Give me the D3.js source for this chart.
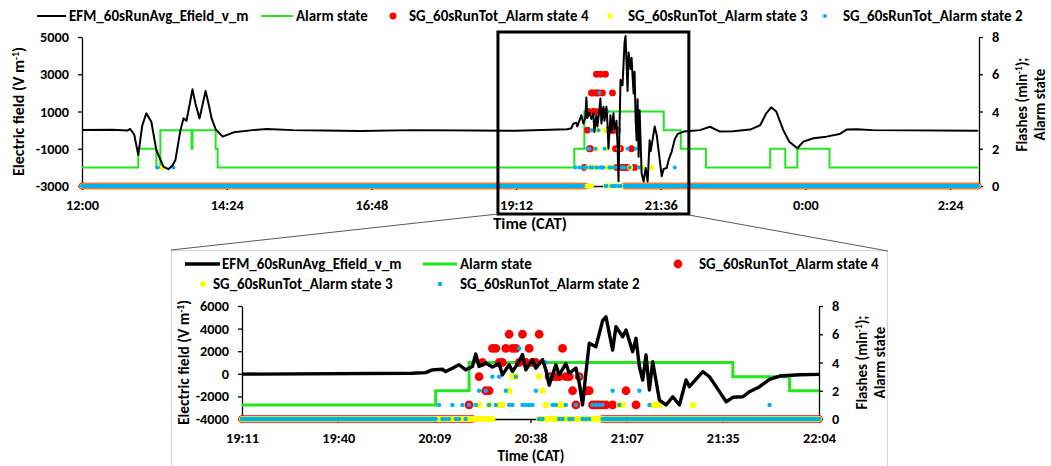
<!DOCTYPE html>
<html>
<head>
<meta charset="utf-8">
<script src="https://cdn.jsdelivr.net/npm/d3@7"></script>
<style>
  body { margin: 0; background: #fff; }
  svg { display: block; font-family: Carlito, Lato, sans-serif; font-weight: bold; }
</style>
</head>
<body>
<svg id="chart" width="1051" height="466"></svg>
<script>
// ------------------
// Data (times are local CAT)
// ------------------
const fieldSeries = [
  ['12:00', 0], ['12:30', 20], ['12:45', -20], ['12:48', 60], ['12:52', -250], ['12:56', -1330],
  ['13:00', 250], ['13:04', 900], ['13:09', 450], ['13:14', -1070], ['13:21', -1960], ['13:26', -2100],
  ['13:30', -1900], ['13:33', -1600], ['13:38', 0], ['13:41', 630], ['13:44', 500], ['13:50', 2190],
  ['13:53', 1400], ['13:57', 630], ['14:03', 2100], ['14:06', 1400], ['14:09', 630], ['14:13', 50],
  ['14:20', -350], ['14:31', -120], ['14:50', 0], ['15:04', 60], ['15:30', 0], ['16:00', -20],
  ['16:37', -50], ['17:30', 0], ['18:30', -20], ['19:12', -30], ['20:03', 50], ['20:07', 100],
  ['20:09', 350], ['20:12', 400], ['20:13', 200], ['20:15', 500], ['20:17', 800], ['20:19', 350],
  ['20:21', 650], ['20:22', 1750], ['20:23', 650], ['20:25', 950], ['20:27', 600], ['20:29', 900],
  ['20:30', -100], ['20:32', 800], ['20:33', 200], ['20:35', 1100], ['20:36', 1700], ['20:37', 350],
  ['20:39', 1250], ['20:40', 500], ['20:42', 1250], ['20:43', 350], ['20:44', -1000], ['20:46', 800],
  ['20:47', -100], ['20:49', 900], ['20:50', 50], ['20:52', 500], ['20:53', -800], ['20:54', -2750],
  ['20:55', 100], ['20:56', 2700], ['20:58', 2400], ['21:00', 4700], ['21:01', 5050], ['21:03', 2100],
  ['21:04', 4170], ['21:06', 3280], ['21:07', 3880], ['21:09', 1960], ['21:10', 3140], ['21:11', 630],
  ['21:12', -550], ['21:13', 1660], ['21:14', -1430], ['21:15', 1070], ['21:17', -2320], ['21:19', -2760],
  ['21:21', -2030], ['21:23', -2760], ['21:25', -550], ['21:26', -1140], ['21:30', 190], ['21:32', -260],
  ['21:35', -1580], ['21:37', -2470], ['21:39', -2080], ['21:42', -2030], ['21:44', -1580], ['21:47', -1140],
  ['21:50', -490], ['21:53', -200], ['21:59', -80], ['22:05', -50], ['22:15', 0], ['22:25', 180],
  ['22:35', -80], ['22:48', -60], ['23:05', 30], ['23:15', 260], ['23:21', 900], ['23:26', 1225],
  ['23:31', 1000], ['23:38', 0], ['23:44', -620], ['23:52', -975], ['23:58', -620], ['0:08', -440],
  ['0:21', -350], ['0:34', -210], ['0:41', 30], ['0:51', 50], ['1:07', 0], ['2:52', -30]
]

// alarm state, value holds from each time until the next one
const alarmState = [
  ['12:00', 1], ['12:56', 2], ['13:14', 1], ['13:18', 3], ['13:49', 2], ['13:50', 3], ['14:13', 2],
  ['14:15', 1], ['20:10', 2], ['20:20', 4], ['21:39', 3], ['21:56', 2], ['22:21', 1], ['23:25', 2],
  ['23:40', 1], ['23:52', 2], ['0:24', 1], ['2:52', 1]
]

// SG 60 s running totals (flashes per minute), non-zero and isolated readings
const sgState4 = [
  ['20:32', 6], ['20:36', 6], ['20:41', 6],
  ['20:27', 5], ['20:28', 5], ['20:31', 5], ['20:33', 5], ['20:34', 5], ['20:38', 5], ['20:48', 5],
  ['20:24', 4], ['20:29', 4], ['20:30', 4], ['20:35', 4], ['20:37', 4], ['20:39', 4], ['20:40', 4],
  ['20:23', 3], ['20:44', 3], ['20:45', 3], ['20:46', 3], ['20:47', 3], ['20:49', 3], ['20:50', 3], ['20:53', 3],
  ['20:25', 2], ['20:26', 2], ['20:51', 2], ['20:55', 2], ['20:56', 2], ['21:07', 2],
  ['20:20', 1], ['20:52', 1], ['20:57', 1], ['20:58', 1], ['20:59', 1], ['21:00', 1], ['21:01', 1], ['21:03', 1], ['21:10', 1]
]
const sgState3 = [
  ['20:33', 3], ['20:34', 3], ['20:41', 3],
  ['20:32', 2], ['20:42', 2], ['20:54', 2],
  ['13:20', 1], ['20:23', 1], ['20:26', 1], ['20:29', 1], ['20:30', 1], ['20:43', 1], ['20:47', 1], ['20:48', 1],
  ['21:05', 1], ['21:06', 1], ['21:15', 1], ['21:16', 1], ['21:17', 1], ['21:27', 1]
]
const sgState2 = [
  ['20:35', 5], ['20:43', 4],
  ['20:27', 3], ['20:29', 3], ['20:34', 3], ['20:44', 3], ['20:53', 3],
  ['20:23', 2], ['20:25', 2], ['20:31', 2], ['20:40', 2], ['21:03', 2], ['21:11', 2],
  ['13:15', 1], ['13:31', 1], ['20:11', 1], ['20:15', 1], ['20:18', 1], ['20:20', 1], ['20:22', 1], ['20:26', 1],
  ['20:28', 1], ['20:32', 1], ['20:33', 1], ['20:36', 1], ['20:37', 1], ['20:38', 1], ['20:39', 1], ['20:45', 1],
  ['20:46', 1], ['20:49', 1], ['20:52', 1], ['20:57', 1], ['20:58', 1], ['20:59', 1], ['21:00', 1], ['21:05', 1],
  ['21:14', 1], ['21:50', 1],
  ['20:12', 0], ['20:13', 0], ['20:14', 0], ['20:16', 0], ['20:17', 0], ['20:19', 0], ['20:41', 0], ['20:42', 0],
  ['20:47', 0], ['20:48', 0], ['20:50', 0], ['20:51', 0], ['20:54', 0], ['20:55', 0], ['20:56', 0]
]

// stretches where every one-minute total is zero
const zeroRunsState4 = [['12:00', '20:21'], ['21:00', '2:52']]
const zeroRunsState3 = [['12:00', '20:27'], ['20:41', '2:52']]
const zeroRunsState2 = [['12:00', '20:10'], ['21:00', '2:52']]

const topTickDays = [0.5, 0.6, 0.7, 0.8, 0.9, 1.0, 1.1]
const topTickLabels = ['12:00', '14:24', '16:48', '19:12', '21:36', '0:00', '2:24']
const bottomTickDays = [0.8, 0.82, 0.84, 0.86, 0.88, 0.9, 0.92]
const bottomTickLabels = ['19:11', '19:40', '20:09', '20:38', '21:07', '21:35', '22:04']
const zoomWindow = ['18:54', '22:04']

const legendLabels = ['EFM_60sRunAvg_Efield_v_m', 'Alarm state', 'SG_60sRunTot_Alarm state 4',
  'SG_60sRunTot_Alarm state 3', 'SG_60sRunTot_Alarm state 2']

// Excel-style day fraction, times after midnight belong to the next day
const day = s => {
  const [h, m] = s.split(':').map(Number)
  return (h < 12 ? h + 24 : h) / 24 + m / 1440
}

const RED = '#ff0000'
const YELLOW = '#ffff00'
const BLUE = '#00b0f0'
const GREEN = '#22e61e'

const svg = d3.select('#chart')

function drawPanel(cfg) {
  const g = svg.append('g')
  const x = d3.scaleLinear().domain(cfg.days).range([cfg.left, cfg.right])
  const yL = d3.scaleLinear().domain(cfg.field).range([cfg.bottom, cfg.top])
  const yR = d3.scaleLinear().domain([0, 8]).range([cfg.bottom, cfg.top])
  const inside = d => { const t = day(d[0]); return t >= cfg.days[0] && t <= cfg.days[1] }

  const clipId = 'clip-' + cfg.name
  svg.append('clipPath').attr('id', clipId).append('rect')
    .attr('x', cfg.left).attr('y', cfg.top - 20)
    .attr('width', cfg.right - cfg.left).attr('height', cfg.bottom - cfg.top + 40)

  // ------------------
  // Axes
  // ------------------
  const styleAxis = sel => {
    sel.attr('font-family', null).attr('font-size', cfg.tickFont)
    sel.selectAll('path, line').attr('stroke', '#000').attr('stroke-width', 1.3)
    sel.selectAll('text').attr('fill', '#000')
  }
  g.append('g').attr('transform', `translate(0,${cfg.bottom})`)
    .call(d3.axisBottom(x).tickValues(cfg.tickDays).tickFormat((d, i) => cfg.tickLabels[i])
      .tickSize(4).tickPadding(10).tickSizeOuter(0))
    .call(styleAxis)
  g.append('g').attr('transform', `translate(${cfg.left},0)`)
    .call(d3.axisLeft(yL).tickValues(cfg.fieldTicks).tickFormat(d => String(d))
      .tickSize(4).tickPadding(9).tickSizeOuter(0))
    .call(styleAxis)
  g.append('g').attr('transform', `translate(${cfg.right},0)`)
    .call(d3.axisRight(yR).tickValues([0, 2, 4, 6, 8]).tickSize(4).tickPadding(9).tickSizeOuter(0))
    .call(styleAxis)

  // ------------------
  // Alarm state
  // ------------------
  g.append('path')
    .datum(alarmState)
    .attr('clip-path', `url(#${clipId})`)
    .attr('fill', 'none')
    .attr('stroke', GREEN)
    .attr('stroke-width', cfg.greenWidth)
    .attr('d', d3.line().x(d => x(day(d[0]))).y(d => yR(d[1])).curve(d3.curveStepAfter))

  // ------------------
  // Flash totals: zero stretches as bands, readings as markers
  // ------------------
  const series = [
    { runs: zeroRunsState4, pts: sgState4, color: RED, r: cfg.r4, band: cfg.band4 },
    { runs: zeroRunsState3, pts: sgState3, color: YELLOW, r: cfg.r3, band: cfg.band3 },
    { runs: zeroRunsState2, pts: sgState2, color: BLUE, r: cfg.r2, band: cfg.band2 }
  ]
  series.forEach(s => {
    const runs = s.runs
      .map(([a, b]) => [Math.max(day(a), cfg.days[0]), Math.min(day(b), cfg.days[1])])
      .filter(([a, b]) => b > a)
    g.append('g').selectAll('line')
      .data(runs)
      .enter()
      .append('line')
      .attr('x1', d => x(d[0]))
      .attr('x2', d => x(d[1]))
      .attr('y1', yR(0))
      .attr('y2', yR(0))
      .attr('stroke', s.color)
      .attr('stroke-width', s.band)
      .attr('stroke-linecap', 'round')
    g.append('g').selectAll('circle')
      .data(s.pts.filter(inside))
      .enter()
      .append('circle')
      .attr('cx', d => x(day(d[0])))
      .attr('cy', d => yR(d[1]))
      .attr('r', s.r)
      .attr('fill', s.color)
  })

  // ------------------
  // Electric field
  // ------------------
  g.append('path')
    .datum(fieldSeries)
    .attr('clip-path', `url(#${clipId})`)
    .attr('fill', 'none')
    .attr('stroke', '#000')
    .attr('stroke-width', cfg.blackWidth)
    .attr('stroke-linejoin', 'round')
    .attr('d', d3.line().x(d => x(day(d[0]))).y(d => yL(d[1])))

  // ------------------
  // Axis titles
  // ------------------
  const left = g.append('text')
    .attr('transform', `translate(${cfg.leftTitleX},${(cfg.top + cfg.bottom) / 2}) rotate(-90)`)
    .attr('text-anchor', 'middle')
    .attr('font-size', cfg.titleFont)
  left.append('tspan').text('Electric field (V m')
  left.append('tspan').attr('dy', -5).attr('font-size', cfg.titleFont * 0.62).text('-1')
  left.append('tspan').attr('dy', 5).text(')')

  const rightCy = (cfg.top + cfg.bottom) / 2 + cfg.rightTitleShift
  const r1 = g.append('text')
    .attr('transform', `translate(${cfg.rightTitleX},${rightCy}) rotate(-90)`)
    .attr('text-anchor', 'middle')
    .attr('font-size', cfg.rightFont)
  r1.append('tspan').text('Flashes (min')
  r1.append('tspan').attr('dy', -5).attr('font-size', cfg.rightFont * 0.62).text('-1')
  r1.append('tspan').attr('dy', 5).text(');')
  g.append('text')
    .attr('transform', `translate(${cfg.rightTitleX + cfg.lineGap},${rightCy}) rotate(-90)`)
    .attr('text-anchor', 'middle')
    .attr('font-size', cfg.rightFont)
    .text('Alarm state')

  g.append('text')
    .attr('x', cfg.timeTitleX)
    .attr('y', cfg.timeTitleY)
    .attr('text-anchor', 'middle')
    .attr('font-size', cfg.timeFont)
    .text('Time (CAT)')

  return x
}

// ------------------
// Bottom panel frame (behind everything)
// ------------------
svg.append('rect')
  .attr('x', 171.5).attr('y', 250.5).attr('width', 716).attr('height', 230)
  .attr('fill', '#fff').attr('stroke', '#d4d4d4').attr('stroke-width', 1)

const xTop = drawPanel({
  name: 'top', days: [0.5, 1.12], left: 82, right: 979, top: 37, bottom: 186,
  field: [-3000, 5000], fieldTicks: [-3000, -1000, 1000, 3000, 5000],
  tickDays: topTickDays, tickLabels: topTickLabels, tickFont: 14.3, titleFont: 16, rightFont: 15,
  timeFont: 16.5, greenWidth: 2, blackWidth: 2, r4: 3.4, r3: 2.6, r2: 2, band4: 6.5, band3: 5.2, band2: 4,
  leftTitleX: 24, rightTitleX: 1027, lineGap: 18, rightTitleShift: -7,
  timeTitleX: 530, timeTitleY: 229
})

drawPanel({
  name: 'bottom', days: [0.8, 0.92], left: 242, right: 819, top: 306, bottom: 419,
  field: [-4000, 6000], fieldTicks: [-4000, -2000, 0, 2000, 4000, 6000],
  tickDays: bottomTickDays, tickLabels: bottomTickLabels, tickFont: 14.3, titleFont: 15.5, rightFont: 15,
  timeFont: 15, greenWidth: 3, blackWidth: 3.4, r4: 4.4, r3: 3.2, r2: 2.2, band4: 7.5, band3: 6, band2: 4.6,
  leftTitleX: 189, rightTitleX: 867, lineGap: 18, rightTitleShift: 0,
  timeTitleX: 531, timeTitleY: 461
})

// zoom box on the top panel and its connectors
const boxL = xTop(day(zoomWindow[0]))
const boxR = xTop(day(zoomWindow[1]))
svg.append('rect')
  .attr('x', boxL).attr('y', 32).attr('width', boxR - boxL).attr('height', 182)
  .attr('fill', 'none').attr('stroke', '#000').attr('stroke-width', 3)
svg.append('line')
  .attr('x1', boxL).attr('y1', 214).attr('x2', 171).attr('y2', 250)
  .attr('stroke', '#595959').attr('stroke-width', 1)
svg.append('line')
  .attr('x1', boxR).attr('y1', 215).attr('x2', 888).attr('y2', 251)
  .attr('stroke', '#595959').attr('stroke-width', 1)

// ------------------
// Legends
// ------------------
function legend(items, font) {
  items.forEach(it => {
    const g = svg.append('g')
    if (it.kind === 'line') {
      g.append('line').attr('x1', it.x).attr('x2', it.x + it.len).attr('y1', it.y).attr('y2', it.y)
        .attr('stroke', it.color).attr('stroke-width', it.w)
    } else {
      g.append('circle').attr('cx', it.x).attr('cy', it.y).attr('r', it.r).attr('fill', it.color)
    }
    g.append('text').attr('x', it.tx).attr('y', it.y + 5).attr('font-size', font).text(it.label)
  })
}

legend([
  { kind: 'line', x: 37, len: 29, y: 16, color: '#000', w: 2, tx: 69, label: legendLabels[0] },
  { kind: 'line', x: 261, len: 32, y: 16, color: GREEN, w: 2, tx: 296, label: legendLabels[1] },
  { kind: 'dot', x: 393, y: 16, r: 3.4, color: RED, tx: 409, label: legendLabels[2] },
  { kind: 'dot', x: 610, y: 16, r: 2.6, color: YELLOW, tx: 628, label: legendLabels[3] },
  { kind: 'dot', x: 825, y: 16, r: 2, color: BLUE, tx: 843, label: legendLabels[4] }
], 15)

legend([
  { kind: 'line', x: 185, len: 35, y: 264, color: '#000', w: 3.4, tx: 222, label: legendLabels[0] },
  { kind: 'line', x: 423, len: 34, y: 264, color: GREEN, w: 3, tx: 460, label: legendLabels[1] },
  { kind: 'dot', x: 678, y: 264, r: 4.4, color: RED, tx: 699, label: legendLabels[2] },
  { kind: 'dot', x: 203, y: 284, r: 3, color: YELLOW, tx: 213, label: legendLabels[3] },
  { kind: 'dot', x: 440, y: 284, r: 2.2, color: BLUE, tx: 460, label: legendLabels[4] }
], 15)
</script>
</body>
</html>
